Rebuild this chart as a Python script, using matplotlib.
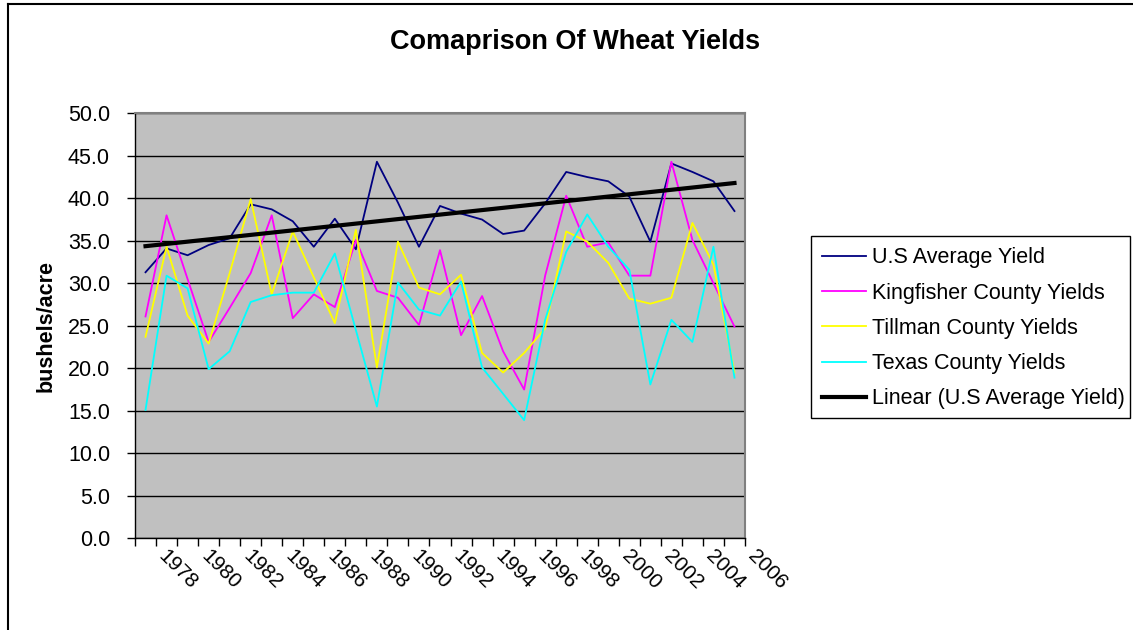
import numpy as np
import matplotlib
matplotlib.use("Agg")
import matplotlib.pyplot as plt
from matplotlib.lines import Line2D
from matplotlib.patches import Rectangle

years = list(range(1978, 2007))
us_avg = [31.3, 34.1, 33.3, 34.5, 35.3, 39.3, 38.7, 37.3, 34.3, 37.6, 34.0, 44.3, 39.5, 34.3, 39.1,
          38.2, 37.5, 35.8, 36.2, 39.4, 43.1, 42.5, 42.0, 40.2, 34.9, 44.1, 43.1, 42.0, 38.5]
kingfisher = [26.1, 38.0, 30.5, 23.1, 27.1, 31.2, 38.0, 25.9, 28.7, 27.2, 35.1, 29.1, 28.3, 25.1, 33.9,
              23.9, 28.5, 22.0, 17.5, 30.9, 40.3, 34.3, 34.8, 30.9, 30.9, 44.3, 35.1, 30.0, 24.9]
tillman = [23.7, 34.3, 26.2, 22.9, 31.2, 39.9, 28.7, 36.1, 30.7, 25.3, 36.3, 20.1, 34.9, 29.5, 28.7,
           31.0, 21.8, 19.5, 21.8, 24.7, 36.1, 34.9, 32.4, 28.2, 27.6, 28.3, 37.1, 32.2, 19.5]
texas = [15.1, 30.9, 29.4, 19.9, 22.0, 27.8, 28.6, 28.9, 28.9, 33.5, 24.5, 15.5, 30.1, 26.9, 26.2,
         30.2, 20.1, 17.0, 13.9, 25.7, 33.7, 38.1, 34.3, 31.6, 18.1, 25.7, 23.1, 34.3, 18.9]

series_labels = ["U.S Average Yield", "Kingfisher County Yields", "Tillman County Yields",
                 "Texas County Yields", "Linear (U.S Average Yield)"]
title = "Comaprison Of Wheat Yields"
ylabel = "bushels/acre"

plt.rcParams['font.family'] = ['Liberation Sans', 'DejaVu Sans']

W, H = 1133, 630
fig = plt.figure(figsize=(W / 100, H / 100), dpi=100)
fig.patch.set_facecolor('white')

# outer chart border (top and left visible)
fig.add_artist(Line2D([8 / W, 8 / W], [0, 1 - 4 / H], transform=fig.transFigure, color='black', lw=1.5))
fig.add_artist(Line2D([8 / W, 1], [1 - 4 / H, 1 - 4 / H], transform=fig.transFigure, color='black', lw=1.5))

left, right, top, bottom = 135, 745, 113.3, 538.3
ax = fig.add_axes([left / W, 1 - bottom / H, (right - left) / W, (bottom - top) / H])
ax.set_facecolor('#C0C0C0')

x = np.arange(len(years))
ax.plot(x, us_avg, color='#000080', lw=1.3, label=series_labels[0], zorder=3)
ax.plot(x, kingfisher, color='#FF00FF', lw=1.3, label=series_labels[1], zorder=3)
ax.plot(x, tillman, color='#FFFF00', lw=1.3, label=series_labels[2], zorder=3)
ax.plot(x, texas, color='#00FFFF', lw=1.3, label=series_labels[3], zorder=3)
coef = np.polyfit(x, us_avg, 1)
ax.plot(x, np.polyval(coef, x), color='black', lw=3.0, label=series_labels[4], zorder=4)

ax.set_xlim(-0.5, len(years) - 0.5)
ax.set_ylim(0, 50)
ax.set_yticks(np.arange(0, 50.1, 5))
ax.set_yticklabels([f"{v:.1f}" for v in np.arange(0, 50.1, 5)], fontsize=15.5)
ax.yaxis.grid(True, color='black', lw=1.0)
ax.set_axisbelow(True)

ax.set_xticks(np.arange(-0.5, len(years), 1.0))
ax.set_xticklabels([])
ax.tick_params(axis='both', which='major', direction='out', length=6, width=1, color='black')
ax.tick_params(axis='y', pad=12)
for i in range(0, len(years), 2):
    ax.annotate(str(years[i]), xy=(i, 0), xycoords=('data', 'axes fraction'),
                xytext=(16.5, -6), textcoords='offset points', rotation=-45,
                ha='left', va='top', rotation_mode='anchor', fontsize=15)

for s in ['top', 'right']:
    ax.spines[s].set_color('#808080')
    ax.spines[s].set_linewidth(1.5)
for s in ['left', 'bottom']:
    ax.spines[s].set_color('black')
    ax.spines[s].set_linewidth(1.0)

fig.text(575 / W, 1 - 42 / H, title, ha='center', va='center', fontsize=19.5, fontweight='bold')
fig.text(46 / W, 1 - 326 / H, ylabel, ha='center', va='center', rotation=90, fontsize=15.5, fontweight='bold')

# legend frame drawn separately
lx0, lx1, ly0, ly1 = 811, 1130, 236, 418
fig.add_artist(Rectangle((lx0 / W, 1 - ly1 / H), (lx1 - lx0) / W, (ly1 - ly0) / H,
                         transform=fig.transFigure, facecolor='white', edgecolor='black', lw=1.0,
                         zorder=1))
leg = fig.legend(loc='upper left', bbox_to_anchor=(816 / W, 1 - 241 / H), fontsize=15.5,
                 frameon=False, handlelength=2.0, handletextpad=0.28, labelspacing=0.66,
                 borderpad=0.3, borderaxespad=0)
leg.set_zorder(2)

fig.savefig('out.png', dpi=100, facecolor='white')
